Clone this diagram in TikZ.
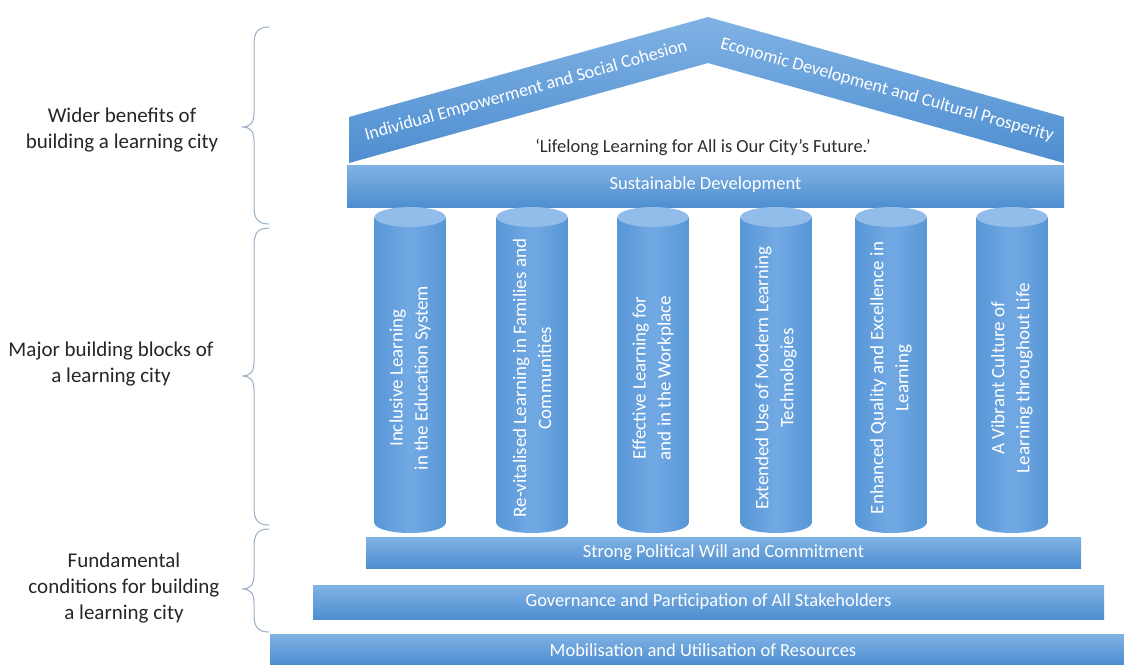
\documentclass[tikz,border=0pt]{standalone}
\usepackage{fontspec}
\setmainfont{Carlito}
\usetikzlibrary{calc}
\definecolor{barTop}{RGB}{128,178,228}
\definecolor{barBot}{RGB}{78,142,208}
\definecolor{colSide}{RGB}{88,150,214}
\definecolor{colMid}{RGB}{114,170,228}
\definecolor{colCap}{RGB}{146,188,234}
\definecolor{braceC}{RGB}{150,172,196}
\definecolor{quoteC}{RGB}{45,45,45}
\tikzset{
  bar/.style={top color=barTop,bottom color=barBot},
  colbody/.style={left color=colSide,right color=colSide,middle color=colMid},
  bartext/.style={text=white,font=\fontsize{18.5}{20}\selectfont},
  rooftext/.style={text=white,font=\fontsize{18}{20}\selectfont},
  coltext/.style={text=white,align=center,rotate=90,font=\fontsize{19}{25}\selectfont},
  sidelabel/.style={align=center,text=black!85,font=\fontsize{21}{26}\selectfont},
  bracestyle/.style={draw=braceC,line width=1pt}
}
% curly brace: top, tip, bottom
\newcommand{\sidebrace}[3]{%
\draw[bracestyle](269,#1) .. controls (257,#1) and (254,#1+6) .. (254,#1+18)
--(254,#2-14) .. controls (254,#2-5) and (251,#2) .. (242,#2)
.. controls (251,#2) and (254,#2+5) .. (254,#2+14)
--(254,#3-18) .. controls (254,#3-6) and (257,#3) .. (269,#3);}
\begin{document}
\begin{tikzpicture}[x=1pt,y=-1pt]
\useasboundingbox (0,0) rectangle (1124,664);
%side labels
\node[sidelabel] (wider) at (122,130) {Wider benefits of\\building a learning city};
\node[sidelabel] (major) at (111,364) {Major building blocks of\\a learning city};
\node[sidelabel] (fundamental) at (124,588) {Fundamental\\conditions for building\\a learning city};
%braces
\sidebrace{27}{127}{224}
\sidebrace{228}{376}{525}
\sidebrace{529}{589}{632}
%roof
\path[bar] (349,117)--(708,17)--(1064,117)--(1064,163)--(708,63)--(349,163)--cycle;
\node[rooftext,rotate=15.6] (empower) at (526,91) {Individual Empowerment and Social Cohesion};
\node[rooftext,rotate=-15.6] (economic) at (887,90) {Economic Development and Cultural Prosperity};
\node[text=quoteC,font=\fontsize{18.5}{20}\selectfont] (motto) at (703,147) {‘Lifelong Learning for All is Our City’s Future.’};
%architrave
\path[bar] (347,165) rectangle (1064,207);
\node[bartext] (sustain) at (705.5,185) {Sustainable Development};
%columns
\foreach \cx/\name/\txt in {
410/inclusive/{Inclusive Learning\\in the Education System},
532/families/{Re-vitalised Learning in Families and\\Communities},
653/workplace/{Effective Learning for\\and in the Workplace},
776/technology/{Extended Use of Modern Learning\\Technologies},
891/quality/{Enhanced Quality and Excellence in\\Learning},
1012/culture/{A Vibrant Culture of\\Learning throughout Life}}{
\path[colbody] (\cx-35.5,217) rectangle (\cx+35.5,523);
\path[colbody] (\cx,523) ellipse (35.5 and 10);
\fill[colCap] (\cx,217) ellipse (35.5 and 10);
\node[coltext] (\name) at (\cx,378) {\txt};
}
%steps
\path[bar] (366,537) rectangle (1081,568);
\node[bartext] (political) at (723.5,552.5) {Strong Political Will and Commitment};
\path[bar] (313,585) rectangle (1104,619);
\node[bartext] (governance) at (708.5,602) {Governance and Participation of All Stakeholders};
\path[bar] (270,634) rectangle (1124,664);
\node[bartext] (resources) at (703,650) {Mobilisation and Utilisation of Resources};
\end{tikzpicture}
\end{document}
